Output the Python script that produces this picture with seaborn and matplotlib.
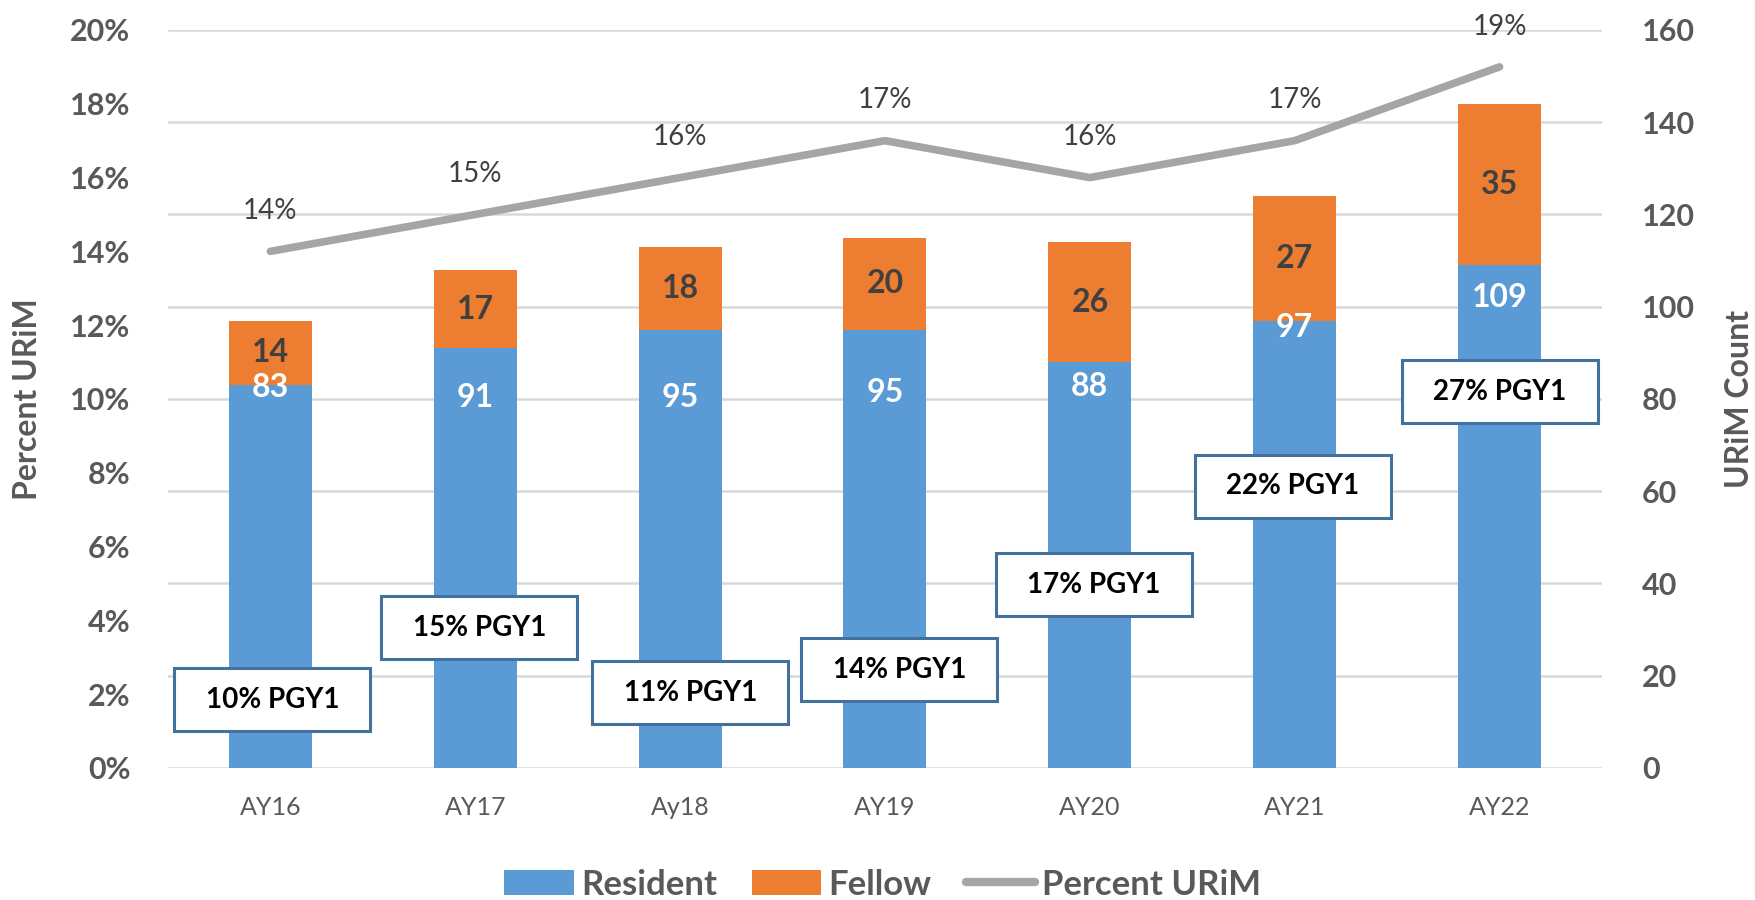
import matplotlib
matplotlib.use("Agg")
import matplotlib.pyplot as plt
from matplotlib.patches import Rectangle, Patch
from matplotlib.lines import Line2D
from matplotlib.ticker import FuncFormatter
import seaborn as sns

# ---------------- data ----------------
categories = ["AY16", "AY17", "Ay18", "AY19", "AY20", "AY21", "AY22"]
resident = [83, 91, 95, 95, 88, 97, 109]
fellow = [14, 17, 18, 20, 26, 27, 35]
percent_urim = [14, 15, 16, 17, 16, 17, 19]
pgy1_pct = [10, 15, 11, 14, 17, 22, 27]
pct_ticks = [0, 2, 4, 6, 8, 10, 12, 14, 16, 18, 20]
count_ticks = [0, 20, 40, 60, 80, 100, 120, 140, 160]

# ---------------- layout (annotation placement) ----------------
resident_label_y = [82.4, 80.4, 80.4, 81.3, 82.6, 95.4, 102.1]   # count units
pgy1_box_y = [1.85, 3.80, 2.04, 2.66, 4.97, 7.64, 10.20]          # percent units
pgy1_box_dx = [0.01, 0.02, 0.05, 0.07, 0.02, -0.01, 0.0]          # category units

BLUE = "#5B9BD5"
ORANGE = "#ED7D31"
LINEGRAY = "#A5A5A5"
GRID = "#D9D9D9"
TXT = "#595959"
DARK = "#404040"
BOXEDGE = "#41719C"

sns.set_style("white")
plt.rcParams["font.family"] = ["Lato", "DejaVu Sans"]

fig = plt.figure(figsize=(17.55, 9), dpi=100)
ax = fig.add_axes([0.0957, 0.1467, 0.8171, 0.82])   # count axis (bars), ticks on right
ax2 = ax.twinx()                                      # percent axis (line), ticks on left

totals = [r + f for r, f in zip(resident, fellow)]
sns.barplot(x=categories, y=totals, color=ORANGE, saturation=1, width=0.405,
            linewidth=0, ax=ax)
sns.barplot(x=categories, y=resident, color=BLUE, saturation=1, width=0.405,
            linewidth=0, ax=ax)

xs = list(range(len(categories)))
pct_frac = [p / 100 for p in percent_urim]
sns.lineplot(x=xs, y=pct_frac, color=LINEGRAY, linewidth=5.5, sort=False,
             solid_capstyle="round", solid_joinstyle="round", ax=ax2, legend=False)

# axes limits / ticks
ax.set_xlim(-0.5, len(categories) - 0.5)
ax.set_ylim(0, 160)
ax2.set_ylim(0, 0.20)
ax.set_yticks(count_ticks)
ax2.set_yticks([t / 100 for t in pct_ticks])
ax2.yaxis.set_major_formatter(FuncFormatter(lambda v, p: f"{v*100:.0f}%"))

ax.yaxis.tick_right()
ax.yaxis.set_label_position("right")
ax2.yaxis.tick_left()
ax2.yaxis.set_label_position("left")

ax.set_axisbelow(True)
ax.grid(axis="y", color=GRID, linewidth=1.8)
ax.grid(axis="x", visible=False)
ax2.grid(False)

for a in (ax, ax2):
    for s in a.spines.values():
        s.set_visible(False)

ax.tick_params(axis="y", length=0, pad=29, labelsize=22, labelcolor=TXT)
ax2.tick_params(axis="y", length=0, pad=27, labelsize=22, labelcolor=TXT)
for lab in ax.get_yticklabels() + ax2.get_yticklabels():
    lab.set_fontweight("bold")
ax.tick_params(axis="x", length=0, pad=20, labelsize=18, labelcolor=TXT)
ax.set_xlabel("")

ax.set_ylabel("URiM Count", fontsize=23, fontweight="bold", color=TXT, rotation=90)
ax.yaxis.set_label_coords(1.086, 0.5)
ax2.set_ylabel("Percent URiM", fontsize=23, fontweight="bold", color=TXT)
ax2.yaxis.set_label_coords(-0.088, 0.5)

# bar value labels
for i in xs:
    ax.text(i, resident[i] + fellow[i] / 2, f"{fellow[i]}", ha="center", va="center",
            fontsize=23, fontweight="bold", color=DARK, zorder=5)
    ax.text(i, resident_label_y[i], f"{resident[i]}", ha="center", va="center",
            fontsize=23, fontweight="bold", color="white", zorder=5)

# line labels
for i in xs:
    ax2.annotate(f"{percent_urim[i]}%", (i, pct_frac[i]), xytext=(0, 29),
                 textcoords="offset points", ha="center", va="center",
                 fontsize=20, color=DARK)

# PGY1 boxes
bw, bh = 0.957, 0.0171
for i in xs:
    cx = i + pgy1_box_dx[i]
    cy = pgy1_box_y[i] / 100
    ax2.add_patch(Rectangle((cx - bw / 2, cy - bh / 2), bw, bh, facecolor="white",
                            edgecolor=BOXEDGE, linewidth=2.2, zorder=6))
    ax2.text(cx, cy, f"{pgy1_pct[i]}% PGY1", ha="center", va="center",
             fontsize=20, fontweight="bold", color="black", zorder=7)

# legend
handles = [Patch(facecolor=BLUE, edgecolor="none"),
           Patch(facecolor=ORANGE, edgecolor="none"),
           Line2D([0], [0], color=LINEGRAY, linewidth=6, solid_capstyle="round")]
leg = fig.legend(handles, ["Resident", "Fellow", "Percent URiM"], loc="center",
                 bbox_to_anchor=(0.503, 0.017), ncol=3, frameon=False,
                 prop={"size": 25, "weight": "bold"}, handlelength=2.0,
                 handleheight=0.75, handletextpad=0.2, columnspacing=1.0)
for t in leg.get_texts():
    t.set_color(TXT)

fig.savefig("out.png", dpi=100, facecolor="white")
